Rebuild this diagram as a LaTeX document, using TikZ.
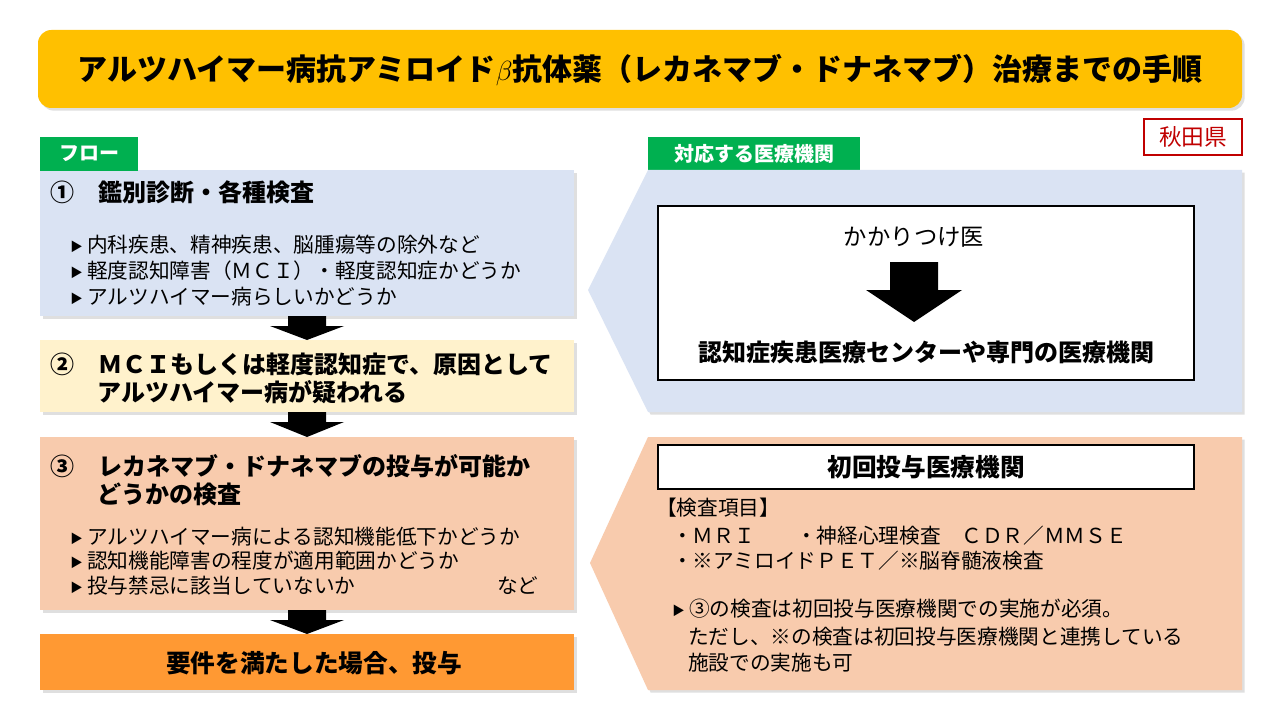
\documentclass[tikz,border=0pt]{standalone}
\usepackage{fontspec}
\setmainfont{Noto Sans CJK JP}
\usetikzlibrary{shadows}
\definecolor{ttl}{HTML}{FFC000}
\definecolor{grn}{HTML}{00B050}
\definecolor{lblue}{HTML}{DAE3F3}
\definecolor{lyel}{HTML}{FFF2CC}
\definecolor{peach}{HTML}{F8CBAD}
\definecolor{org}{HTML}{FF9933}
\definecolor{rd}{HTML}{C00000}
\newcommand{\tri}{\raisebox{1pt}{\scalebox{0.6}{▶}}}
\tikzset{
 sh/.style={drop shadow={shadow xshift=2pt,shadow yshift=-2pt,opacity=.25}},
 tag/.style={fill=grn,text=white,font=\fontsize{15}{17}\selectfont\bfseries,anchor=center},
 txt/.style={anchor=west,font=\fontsize{15.5}{18}\selectfont,inner sep=0},
 btxt/.style={anchor=west,font=\fontsize{18}{21}\selectfont\bfseries,inner sep=0},
}
\begin{document}
\begin{tikzpicture}[x=0.75pt,y=-0.75pt]
\useasboundingbox (0,0) rectangle (1280,720);
\fill[white] (0,0) rectangle (1280,720);
% title
\path[fill=ttl,rounded corners=10pt,sh] (38,30) rectangle (1242,108);
\node[font=\fontsize{22.5}{26}\selectfont\bfseries] (title) at (640,70) {アルツハイマー病抗アミロイド$\beta$抗体薬（レカネマブ・ドナネマブ）治療までの手順};
\node[draw=rd,line width=1.5pt,text=rd,font=\fontsize{17}{19}\selectfont,minimum width=73pt,minimum height=27pt,fill=white] (akita) at (1193,137) {秋田県};
% left boxes
\path[fill=lblue,sh] (40,170) rectangle (574,316);
\path[fill=lyel,sh] (40,340) rectangle (574,412);
\path[fill=peach,sh] (40,437) rectangle (574,610);
\path[fill=org,sh] (40,634) rectangle (574,690);
\node[tag,minimum width=73pt,minimum height=25pt] (flow) at (89,154) {フロー};
\node[tag,minimum width=159pt,minimum height=25pt] (taiou) at (754,154) {対応する医療機関};
% arrows
\foreach \a/\b in {316/340,412/437,610/634}{
 \fill (288,\a) -- (326,\a) -- (326,\a+10) -- (344,\a+10) -- (307,\b) -- (270,\a+10) -- (288,\a+10) -- cycle;}
\node[btxt] (s1) at (50,192) {①\quad 鑑別診断・各種検査};
\node[txt] (b1) at (70,245) {\tri\ 内科疾患、精神疾患、脳腫瘍等の除外など};
\node[txt] (b2) at (70,271) {\tri\ 軽度認知障害（ＭＣＩ）・軽度認知症かどうか};
\node[txt] (b3) at (70,297) {\tri\ アルツハイマー病らしいかどうか};
\node[btxt] (s2) at (50,364) {②\quad ＭＣＩもしくは軽度認知症で、原因として};
\node[btxt] (s2b) at (97,392) {アルツハイマー病が疑われる};
\node[btxt] (s3) at (50,466) {③\quad レカネマブ・ドナネマブの投与が可能か};
\node[btxt] (s3b) at (97,494) {どうかの検査};
\node[txt] (c1) at (70,537) {\tri\ アルツハイマー病による認知機能低下かどうか};
\node[txt] (c2) at (70,561) {\tri\ 認知機能障害の程度が適用範囲かどうか};
\node[txt] (c3) at (70,586) {\tri\ 投与禁忌に該当していないか};
\node[txt] (c4) at (497,586) {など};
\node[font=\fontsize{18.5}{21}\selectfont\bfseries] (s4) at (314,663) {要件を満たした場合、投与};
% right callouts
\path[fill=lblue,sh] (648,170) -- (1242,170) -- (1242,412) -- (648,412) -- (588,290) -- cycle;
\path[fill=peach,sh] (648,437) -- (1242,437) -- (1242,690) -- (648,690) -- (590,563) -- cycle;
\draw[line width=2.2pt,fill=white] (658,206) rectangle (1194,380);
\node[font=\fontsize{17.5}{20}\selectfont] (kk) at (914,237) {かかりつけ医};
\fill (890,262) -- (938,262) -- (938,290) -- (962,290) -- (914,322) -- (866,290) -- (890,290) -- cycle;
\node[font=\fontsize{18}{21}\selectfont\bfseries] (ctr) at (926,352) {認知症疾患医療センターや専門の医療機関};
\node[draw,line width=2.2pt,fill=white,minimum width=402pt,minimum height=33pt,font=\fontsize{18.5}{21}\selectfont\bfseries] (first) at (926,467) {初回投与医療機関};
\node[txt] (k0) at (656,508) {【検査項目】};
\node[txt] (k1) at (672,536) {・ＭＲＩ\quad\quad ・神経心理検査\quad ＣＤＲ／ＭＭＳＥ};
\node[txt] (k2) at (672,561) {・※アミロイドＰＥＴ／※脳脊髄液検査};
\node[txt] (k3) at (672,609) {\tri\ ③の検査は初回投与医療機関での実施が必須。};
\node[txt] (k4) at (688,637) {ただし、※の検査は初回投与医療機関と連携している};
\node[txt] (k5) at (688,663) {施設での実施も可};
\end{tikzpicture}
\end{document}
